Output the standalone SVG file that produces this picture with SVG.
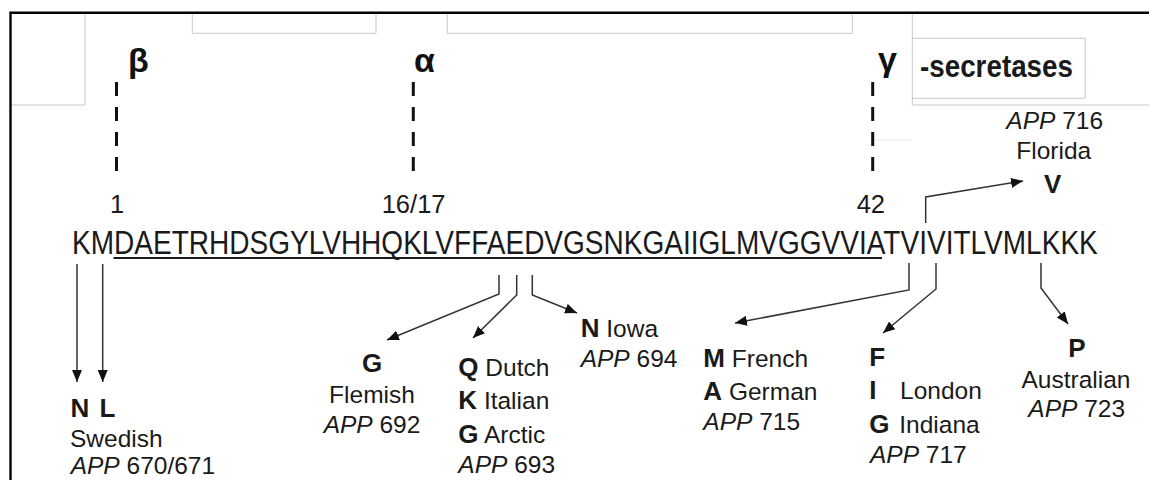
<svg xmlns="http://www.w3.org/2000/svg" width="1149" height="480" viewBox="0 0 1149 480">
<style>
  text { font-family: "Liberation Sans", Arial, sans-serif; fill: #1a1a1a; }
  .lbl { font-size: 24.5px; }
  .b { font-size: 26px; font-weight: bold; }
  .it { font-style: italic; }
  .num { font-size: 25.5px; }
  .greek { font-size: 34px; font-weight: bold; fill: #111; }
  .seq { font-size: 27.76px; }
  .mid { text-anchor: middle; }
  .frame { stroke: #c8c8c8; stroke-width: 1; fill: none; }
  .conn { stroke: #333; stroke-width: 1.5; fill: none; marker-end: url(#ah); }
  .dash { stroke: #111; stroke-width: 3; stroke-dasharray: 14 11; }
</style>
<defs>
  <marker id="ah" markerUnits="userSpaceOnUse" markerWidth="13" markerHeight="11" refX="12" refY="5" orient="auto">
    <path d="M0,0 L12,5 L0,10 z" fill="#111"/>
  </marker>
</defs>
<rect x="0" y="0" width="1149" height="480" fill="#fff"/>

<g id="frames">
  <path class="frame" d="M10,105 H85 V13"/>
  <path class="frame" d="M192.3,13 V33.3 H376 V13"/>
  <path class="frame" d="M447.3,13 V33.3 H852.3 V13"/>
  <path class="frame" d="M912.3,13 V105 H1149"/>
  <path class="frame" d="M912.3,38.3 H1085.3 V98.3 H912.3"/>
  <path d="M873,140 H912" stroke="#e6e6e6" stroke-width="1"/>
  <path d="M10.5,480 V12.8 H1149" stroke="#000" stroke-width="2.4" fill="none"/>
</g>

<g id="secretases">
  <text class="greek" x="128" y="72">β</text>
  <text class="greek" x="414" y="72">α</text>
  <text class="greek" x="878" y="71">γ</text>
  <text transform="translate(920,77) scale(1,1.12)" x="0" y="0" font-size="27.8" font-weight="bold">-secretases</text>
  <line class="dash" x1="116.5" y1="82" x2="116.5" y2="171"/>
  <line class="dash" x1="413.3" y1="82" x2="413.3" y2="171"/>
  <line class="dash" x1="872.7" y1="82" x2="872.7" y2="171"/>
</g>

<g id="positions">
  <text class="num mid" x="117" y="213.3">1</text>
  <text class="num" x="381.7" y="213.3">16/17</text>
  <text class="num" x="856.7" y="213.3">42</text>
</g>

<g id="sequence">
  <text class="seq" transform="translate(72,254) scale(1.01,1.19)" x="0" y="0">KMDAETRHDSGYLVHHQKLVFFAEDVGSNKGAIIGLMVGGVVIATVIVITLVMLKKK</text>
  <line x1="113.5" y1="258" x2="882" y2="258" stroke="#1a1a1a" stroke-width="2.2"/>
</g>

<g id="connectors">
  <path class="conn" d="M77,264 V382"/>
  <path class="conn" d="M102.7,264 V382"/>
  <path class="conn" d="M499,275 V294 L387,340"/>
  <path class="conn" d="M516.7,275 V295 L473,338"/>
  <path class="conn" d="M532.3,275 V295 L577,313"/>
  <path class="conn" d="M925.7,223 V197 L1023,181"/>
  <path class="conn" d="M909,263 V290 L735,323"/>
  <path class="conn" d="M936,263 V289 L883,333"/>
  <path class="conn" d="M1041,263 V288 L1068,324"/>
</g>

<g id="swedish">
  <text class="b" x="70.5" y="416.5">N</text>
  <text class="b" x="99.5" y="416.5">L</text>
  <text class="lbl" x="70" y="446.7">Swedish</text>
  <text class="lbl" x="70.7" y="474"><tspan class="it">APP</tspan> 670/671</text>
</g>

<g id="flemish">
  <text class="b mid" x="372" y="371.7">G</text>
  <text class="lbl mid" x="372" y="403.3">Flemish</text>
  <text class="lbl mid" x="372" y="433.3"><tspan class="it">APP</tspan> 692</text>
</g>

<g id="dutch-italian-arctic">
  <text class="lbl" x="458.3" y="376"><tspan class="b">Q</tspan> Dutch</text>
  <text class="lbl" x="458.3" y="409.3"><tspan class="b">K</tspan> Italian</text>
  <text class="lbl" x="458.3" y="443.3"><tspan class="b">G</tspan> Arctic</text>
  <text class="lbl" x="458.3" y="473.3"><tspan class="it">APP</tspan> 693</text>
</g>

<g id="iowa">
  <text class="lbl" x="580.7" y="336.7"><tspan class="b">N</tspan> Iowa</text>
  <text class="lbl" x="580.7" y="367.3"><tspan class="it">APP</tspan> 694</text>
</g>

<g id="french-german">
  <text class="lbl" x="703.3" y="366.7"><tspan class="b">M</tspan> French</text>
  <text class="lbl" x="703.3" y="400"><tspan class="b">A</tspan> German</text>
  <text class="lbl" x="703.3" y="430"><tspan class="it">APP</tspan> 715</text>
</g>

<g id="london-indiana">
  <text class="b" x="869.3" y="366">F</text>
  <text class="b" x="869.3" y="399.3">I</text>
  <text class="lbl" x="900" y="399.3">London</text>
  <text class="b" x="869.3" y="433.3">G</text>
  <text class="lbl" x="899.3" y="433.3">Indiana</text>
  <text class="lbl" x="870" y="463.3"><tspan class="it">APP</tspan> 717</text>
</g>

<g id="australian">
  <text class="b mid" x="1077" y="357.3">P</text>
  <text class="lbl mid" x="1076" y="388.3">Australian</text>
  <text class="lbl mid" x="1076.7" y="416.7"><tspan class="it">APP</tspan> 723</text>
</g>

<g id="florida">
  <text class="lbl mid" x="1054.7" y="129.3"><tspan class="it">APP</tspan> 716</text>
  <text class="lbl mid" x="1053.7" y="159.3">Florida</text>
  <text class="b mid" x="1052.7" y="193.3">V</text>
</g>
</svg>
